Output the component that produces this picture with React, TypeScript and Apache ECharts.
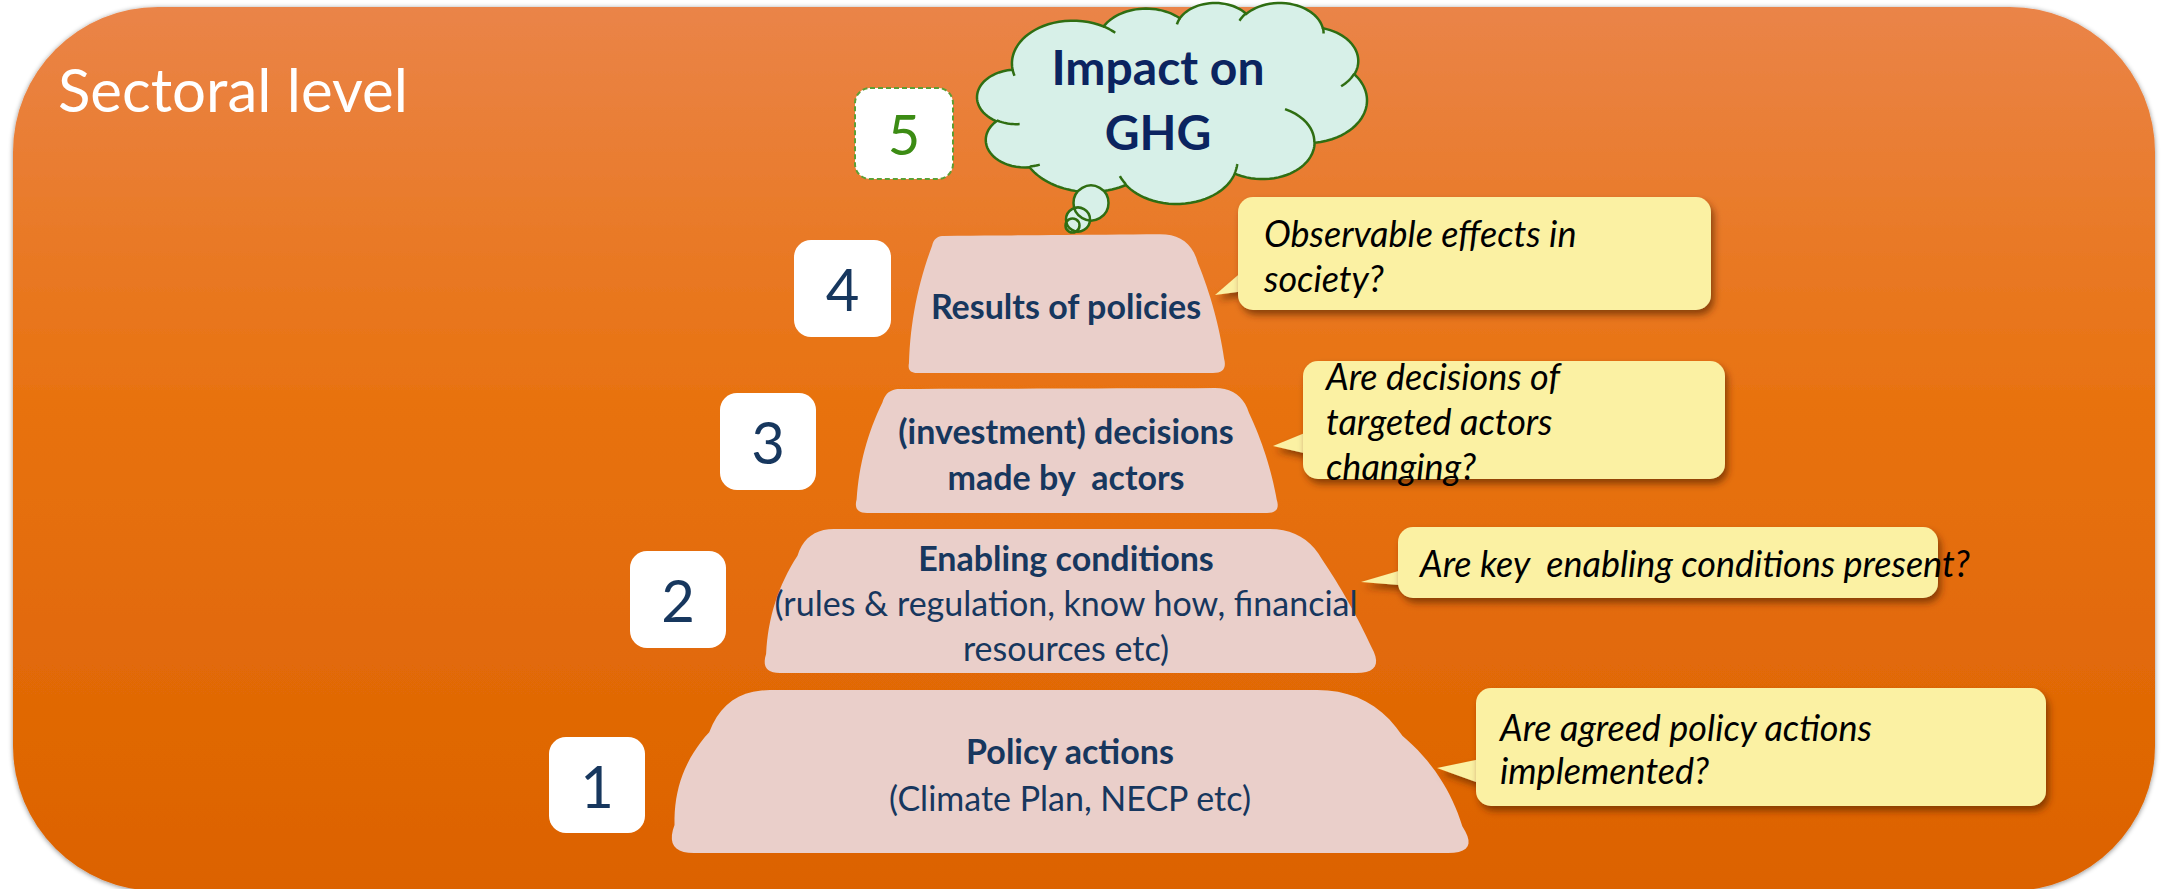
import React, { useEffect, useRef } from 'react';
import * as echarts from 'echarts';

// ---------- content ----------
const TITLE = 'Sectoral level';
const LEVEL_NUMBERS = ['1', '2', '3', '4'];
const TOP_NUMBER = '5';
const LEVEL_TITLES = [
  'Policy actions',
  'Enabling conditions',
  '(investment) decisions\nmade by  actors',
  'Results of policies',
];
const LEVEL_DETAILS = [
  '(Climate Plan, NECP etc)',
  '(rules & regulation, know how, financial\nresources etc)',
  '',
  '',
];
const LEVEL_QUESTIONS = [
  'Are agreed policy actions\nimplemented?',
  'Are key  enabling conditions present?',
  'Are decisions of\ntargeted actors\nchanging?',
  'Observable effects in\nsociety?',
];
const IMPACT_LABEL = 'Impact on\nGHG';

// ---------- layout / style ----------
const W = 2166;
const H = 889;
const FONT = 'Lato';
const NAVY = '#17375E';
const PINK = '#EACFCA';
const YELLOW = '#FBF1A3';
const MINT = '#D7F0E8';
const GREEN = '#2F6E12';

const TRAP_LAYOUT = [
  { v: [[725, 690], [1372, 690], [1480, 853], [664, 853]], r: [45, 55, 32, 30], bulge: [0, 8, 0, 10], cx: 1070, titleY: 750, detailY: 797, lh: 45 },
  { v: [[806, 529], [1305, 529], [1386, 673], [760, 673]], r: [28, 35, 30, 20], bulge: [0, 2, 0, 7], cx: 1066, titleY: 557, detailY: 624.5, lh: 45 },
  { v: [[886, 389], [1241, 388], [1281, 513], [853, 513]], r: [14, 26, 14, 14], bulge: [0, 3, 0, 5], cx: 1066, titleY: 453, detailY: 0, lh: 46 },
  { v: [[934, 236], [1190, 234], [1228, 373], [907, 373]], r: [10, 30, 15, 10], bulge: [0, 3, 0, 5], cx: 1066, titleY: 305, detailY: 0, lh: 45 },
];

const NUMBER_BOXES = [
  { x: 549, y: 737, w: 96, h: 96 },
  { x: 630, y: 551, w: 96, h: 97 },
  { x: 720, y: 393, w: 96, h: 97 },
  { x: 794, y: 240, w: 97, h: 97 },
];
const TOP_BOX = { x: 855, y: 88, w: 98, h: 91 };

const CALLOUTS = [
  { x: 1476, y: 688, w: 570, h: 118, tip: [[1490, 757], [1437, 768], [1490, 787]], tx: 1500, ty: 748.5, lh: 43 },
  { x: 1398, y: 527, w: 540, h: 71, tip: [[1412, 567], [1361, 582], [1412, 586]], tx: 1420, ty: 563, lh: 43 },
  { x: 1303, y: 361, w: 422, h: 118, tip: [[1317, 428], [1273, 446], [1317, 456]], tx: 1326, ty: 421, lh: 45 },
  { x: 1238, y: 197, w: 473, h: 113, tip: [[1252, 263], [1215, 295], [1252, 290]], tx: 1264, ty: 255.5, lh: 45 },
];

const CLOUD_BOX = { x0: 977, x1: 1367, y0: 3, y1: 204 };
const CLOUD_START = [3900, 14370];
const CLOUD_ARCS = [
  [6753, 9190, -11429249, 7426832],
  [5333, 7267, -8646143, 5396714],
  [4365, 5945, -8748475, 5983381],
  [4857, 6595, -7859164, 7034504],
  [5333, 7273, -4722533, 6541615],
  [6775, 9220, -2776035, 7816140],
  [5785, 7867, 37501, 6842000],
  [6752, 9215, 1347096, 6910353],
  [7720, 10543, 3974558, 4542661],
  [4360, 5918, -16496525, 8804134],
  [4345, 5945, -14809710, 9151131],
];
const CLOUD_INNER = [
  [4693, 26177, 4345, 5945, 5204520, 1585770],
  [6928, 34899, 4360, 5918, 4416628, 686848],
  [16478, 39090, 6752, 9215, 8257449, 844866],
  [28827, 34751, 6752, 9215, 387196, 959901],
  [34129, 22954, 5785, 7867, -4217541, 4255042],
  [41798, 15354, 5333, 7273, 1819082, 1665090],
  [38324, 5426, 4857, 6595, -824660, 891534],
  [29078, 3952, 4857, 6595, -8950887, 1091722],
  [22141, 4720, 4365, 5945, -9809656, 1061181],
  [14000, 5192, 6753, 9190, -4002417, 739161],
  [4127, 15789, 6753, 9190, 9459261, 711490],
];
const TAIL_CIRCLES = [
  { cx: 1091, cy: 203, r: 17.5 },
  { cx: 1078, cy: 219.5, r: 12 },
  { cx: 1072.5, cy: 225.5, r: 7 },
];

// ---------- geometry helpers ----------
type P = number[];

function quad(p0: P, p1: P, p2: P, steps: number, out: P[]) {
  for (let k = 1; k <= steps; k++) {
    const t = k / steps;
    const m = 1 - t;
    out.push([
      m * m * p0[0] + 2 * m * t * p1[0] + t * t * p2[0],
      m * m * p0[1] + 2 * m * t * p1[1] + t * t * p2[1],
    ]);
  }
}

function roundedPoly(v: P[], r: number[], bulge: number[]): P[] {
  const n = v.length;
  const unit = (a: P, b: P) => {
    const dx = b[0] - a[0];
    const dy = b[1] - a[1];
    const l = Math.hypot(dx, dy);
    return [dx / l, dy / l];
  };
  const A: P[] = [];
  const B: P[] = [];
  for (let i = 0; i < n; i++) {
    const p = v[(i - 1 + n) % n];
    const c = v[i];
    const q = v[(i + 1) % n];
    const u1 = unit(c, p);
    const u2 = unit(c, q);
    A.push([c[0] + u1[0] * r[i], c[1] + u1[1] * r[i]]);
    B.push([c[0] + u2[0] * r[i], c[1] + u2[1] * r[i]]);
  }
  const pts: P[] = [B[0]];
  for (let e = 0; e < n; e++) {
    const j = (e + 1) % n;
    const s = B[e];
    const t = A[j];
    const dx = t[0] - s[0];
    const dy = t[1] - s[1];
    const l = Math.hypot(dx, dy);
    const ctrl = [(s[0] + t[0]) / 2 + (dy / l) * bulge[e] * 2, (s[1] + t[1]) / 2 - (dx / l) * bulge[e] * 2];
    quad(s, ctrl, t, 16, pts);
    quad(A[j], v[j], B[j], 10, pts);
  }
  return pts;
}

function arcSeg(x0: number, y0: number, wR: number, hR: number, st: number, sw: number, n: number): P[] {
  const a0 = ((st / 60000) * Math.PI) / 180;
  const s = ((sw / 60000) * Math.PI) / 180;
  const par = (a: number) => Math.atan2(wR * Math.sin(a), hR * Math.cos(a));
  const t0 = par(a0);
  const cx = x0 - wR * Math.cos(t0);
  const cy = y0 - hR * Math.sin(t0);
  const out: P[] = [];
  for (let i = 1; i <= n; i++) {
    const t = par(a0 + (s * i) / n);
    out.push([cx + wR * Math.cos(t), cy + hR * Math.sin(t)]);
  }
  return out;
}

function buildCloud() {
  let x = CLOUD_START[0];
  let y = CLOUD_START[1];
  const outline: P[] = [[x, y]];
  for (const [wR, hR, st, sw] of CLOUD_ARCS) {
    const seg = arcSeg(x, y, wR, hR, st, sw, 30);
    outline.push(...seg);
    x = seg[seg.length - 1][0];
    y = seg[seg.length - 1][1];
  }
  let minX = Infinity, maxX = -Infinity, minY = Infinity, maxY = -Infinity;
  outline.forEach(([px, py]) => {
    minX = Math.min(minX, px); maxX = Math.max(maxX, px);
    minY = Math.min(minY, py); maxY = Math.max(maxY, py);
  });
  const sx = (CLOUD_BOX.x1 - CLOUD_BOX.x0) / (maxX - minX);
  const sy = (CLOUD_BOX.y1 - CLOUD_BOX.y0) / (maxY - minY);
  const tf = (p: P) => [CLOUD_BOX.x0 + (p[0] - minX) * sx, CLOUD_BOX.y0 + (p[1] - minY) * sy];
  const inner = CLOUD_INNER.map(([mx, my, wR, hR, st, sw]) => {
    const seg = arcSeg(mx, my, wR, hR, st, sw, 12);
    return [[mx, my], ...seg].map(tf);
  });
  return { outline: outline.map(tf), inner };
}

function text(x: number, y: number, t: string, size: number, opts: any = {}) {
  const align = opts.align || 'center';
  return {
    type: 'text',
    x,
    y,
    silent: true,
    style: {
      text: t,
      fill: opts.fill || NAVY,
      fontSize: size,
      fontFamily: FONT,
      fontWeight: opts.weight || 'normal',
      fontStyle: opts.style || 'normal',
      lineHeight: opts.lh || size * 1.2,
      align,
      verticalAlign: 'middle',
      textAlign: align,
      textVerticalAlign: 'middle',
    },
  };
}

function buildElements() {
  const els: any[] = [];

  // background panel
  els.push({
    type: 'rect',
    shape: { x: 13, y: 7, width: 2142, height: 884, r: 145 },
    style: {
      fill: {
        type: 'linear', x: 0, y: 0, x2: 0, y2: 1,
        colorStops: [
          { offset: 0, color: '#EA8448' },
          { offset: 0.45, color: '#E8720F' },
          { offset: 1, color: '#DC6200' },
        ],
      },
      shadowBlur: 5,
      shadowColor: 'rgba(0,0,0,0.45)',
      shadowOffsetX: 0,
      shadowOffsetY: 1,
    },
  });

  els.push(text(58, 89, TITLE, 60, { align: 'left', fill: '#FFFFFF' }));

  // pyramid levels
  TRAP_LAYOUT.forEach((t) => {
    els.push({ type: 'polygon', shape: { points: roundedPoly(t.v, t.r, t.bulge) }, style: { fill: PINK } });
  });

  // number boxes
  NUMBER_BOXES.forEach((b, i) => {
    els.push({ type: 'rect', shape: { x: b.x, y: b.y, width: b.w, height: b.h, r: 17 }, style: { fill: '#FFFFFF' } });
    els.push(text(b.x + b.w / 2, b.y + b.h / 2, LEVEL_NUMBERS[i], 58, { fill: NAVY }));
  });
  els.push({
    type: 'rect',
    shape: { x: TOP_BOX.x, y: TOP_BOX.y, width: TOP_BOX.w, height: TOP_BOX.h, r: 15 },
    style: { fill: '#FFFFFF', stroke: '#5E9E34', lineWidth: 2, lineDash: [5, 3] },
  });
  els.push(text(TOP_BOX.x + TOP_BOX.w / 2, TOP_BOX.y + TOP_BOX.h / 2, TOP_NUMBER, 56, { fill: '#3C8C14' }));

  // level texts
  TRAP_LAYOUT.forEach((t, i) => {
    els.push(text(t.cx, t.titleY, LEVEL_TITLES[i], 34, { weight: 'bold', lh: t.lh }));
    if (LEVEL_DETAILS[i]) els.push(text(t.cx, t.detailY, LEVEL_DETAILS[i], 34, { lh: t.lh }));
  });

  // callouts
  const shadow = { shadowBlur: 7, shadowColor: 'rgba(90,35,0,0.65)', shadowOffsetX: 3, shadowOffsetY: 5 };
  CALLOUTS.forEach((c, i) => {
    els.push({ type: 'polygon', shape: { points: c.tip }, style: { fill: YELLOW, ...shadow } });
    els.push({ type: 'rect', shape: { x: c.x, y: c.y, width: c.w, height: c.h, r: 15 }, style: { fill: YELLOW, ...shadow } });
    els.push(text(c.tx, c.ty, LEVEL_QUESTIONS[i], 36, { align: 'left', style: 'italic', fill: '#000000', lh: c.lh }));
  });

  // cloud
  const cloud = buildCloud();
  els.push({ type: 'polygon', shape: { points: cloud.outline }, style: { fill: MINT, stroke: GREEN, lineWidth: 2.5 } });
  cloud.inner.forEach((pts) => {
    els.push({ type: 'polyline', shape: { points: pts }, style: { fill: 'none', stroke: GREEN, lineWidth: 2.5 } });
  });
  TAIL_CIRCLES.forEach((c) => {
    els.push({ type: 'circle', shape: c, style: { fill: MINT } });
  });
  TAIL_CIRCLES.forEach((c) => {
    els.push({ type: 'circle', shape: c, style: { fill: 'none', stroke: GREEN, lineWidth: 2.5 } });
  });
  els.push(text(1158, 99, IMPACT_LABEL, 48, { weight: 'bold', fill: '#0B2460', lh: 65 }));

  return els;
}

export default function App() {
  const ref = useRef<HTMLDivElement>(null);
  useEffect(() => {
    if (!ref.current) return;
    const chart = echarts.init(ref.current, undefined, { renderer: 'svg' });
    chart.setOption({
      animation: false,
      graphic: { elements: buildElements() },
    });
    return () => chart.dispose();
  }, []);
  return (
    <div
      ref={ref}
      style={{ position: 'fixed', left: 0, top: 0, width: W, height: H, background: '#FFFFFF' }}
    />
  );
}
